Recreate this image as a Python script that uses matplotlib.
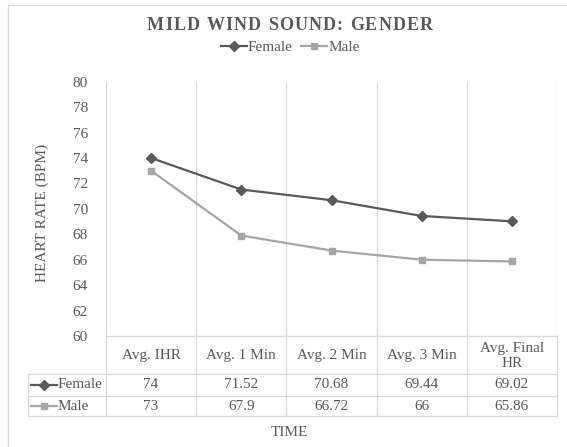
import matplotlib
matplotlib.use('Agg')
import matplotlib.pyplot as plt
from matplotlib.lines import Line2D

plt.rcParams['font.family'] = ['Liberation Serif', 'DejaVu Serif']

categories = ['Avg. IHR', 'Avg. 1 Min', 'Avg. 2 Min', 'Avg. 3 Min', 'Avg. Final\nHR']
female = [74, 71.52, 70.68, 69.44, 69.02]
male = [73, 67.9, 66.72, 66, 65.86]
female_txt = ['74', '71.52', '70.68', '69.44', '69.02']
male_txt = ['73', '67.9', '66.72', '66', '65.86']
y_ticks = list(range(60, 81, 2))
title = 'MILD WIND SOUND: GENDER'

W, H = 567, 447
TXT = '#595959'
GRID = '#D9D9D9'
C_F = '#595959'
C_M = '#A5A5A5'
FS = 11

# plot area in pixels
px_l, px_r = 106, 557
px_t, px_b = 81.7, 336
row_hdr = 374
row_f = 395.7
row_m = 416.3
tab_l = 28

fig = plt.figure(figsize=(W / 100, H / 100), dpi=100)

# overlay in pixel coords for table and frame
ov = fig.add_axes([0, 0, 1, 1], zorder=0)
ov.set_xlim(0, W)
ov.set_ylim(H, 0)
ov.axis('off')

ax = fig.add_axes([px_l / W, 1 - px_b / H, (px_r - px_l) / W, (px_b - px_t) / H], zorder=1)
ax.patch.set_alpha(0)

n = len(categories)
x = list(range(n))
ax.plot(x, female, color=C_F, lw=1.6, marker='D', ms=5, label='Female')
ax.plot(x, male, color=C_M, lw=1.6, marker='s', ms=5, label='Male')
ax.set_xlim(-0.5, n - 0.5)
ax.set_ylim(60, 80)
ax.set_yticks(y_ticks)
ax.set_xticks([])
ax.tick_params(axis='y', length=0, pad=13, labelsize=FS, labelcolor=TXT)
for s in ax.spines.values():
    s.set_visible(False)
for k in range(n + 1):
    ax.axvline(k - 0.5, color=GRID, lw=0.9, zorder=0)

# outer chart border
ov.plot([7.5, 7.5], [4.5, H], color=GRID, lw=0.9)
ov.plot([7.5, W], [4.5, 4.5], color=GRID, lw=0.9)

# data table lines
colw = (px_r - px_l) / n
edges = [px_l + colw * k for k in range(n + 1)]
for xe in edges:
    ov.plot([xe, xe], [px_b, row_m], color=GRID, lw=0.9)
ov.plot([tab_l, tab_l], [row_hdr, row_m], color=GRID, lw=0.9)
ov.plot([px_l, px_r], [px_b, px_b], color=GRID, lw=0.9)
for yy in [row_hdr, row_f, row_m]:
    ov.plot([tab_l, px_r], [yy, yy], color=GRID, lw=0.9)

for k, cat in enumerate(categories):
    cx = px_l + colw * (k + 0.5)
    ov.text(cx, (px_b + row_hdr) / 2 + 1, cat, ha='center', va='center',
            fontsize=FS, color=TXT, linespacing=1.15)
    ov.text(cx, (row_hdr + row_f) / 2, female_txt[k], ha='center', va='center',
            fontsize=FS, color=TXT)
    ov.text(cx, (row_f + row_m) / 2, male_txt[k], ha='center', va='center',
            fontsize=FS, color=TXT)

# row keys
for (yc, col, mk, name) in [((row_hdr + row_f) / 2, C_F, 'D', 'Female'),
                            ((row_f + row_m) / 2, C_M, 's', 'Male')]:
    ov.plot([31, 57], [yc, yc], color=col, lw=1.6)
    ov.plot([44], [yc], color=col, marker=mk, ms=5 if mk == 'D' else 4.5, ls='none')
    ov.text(57.5, yc, name, ha='left', va='center', fontsize=FS, color=TXT)

# title with extra letter spacing
renderer = fig.canvas.get_renderer()
spacing = 1.2
widths = []
for ch in title:
    t = fig.text(0, 0, ch, fontsize=13, fontweight='bold')
    widths.append(t.get_window_extent(renderer).width if ch != ' ' else
                  fig.text(0, 0, 'a a', fontsize=13, fontweight='bold').get_window_extent(renderer).width
                  - fig.text(0, 0, 'aa', fontsize=13, fontweight='bold').get_window_extent(renderer).width)
for t in list(fig.texts):
    t.remove()
total = sum(widths) + spacing * (len(title) - 1)
xpos = 290 - total / 2
for ch, w in zip(title, widths):
    fig.text(xpos / W, 1 - 25 / H, ch, ha='left', va='center',
             fontsize=13, fontweight='bold', color=TXT)
    xpos += w + spacing

fig.text(42 / W, 1 - 213 / H, 'HEART RATE (BPM)', ha='center', va='center',
         rotation=90, fontsize=FS, color=TXT)
fig.text(289 / W, 1 - 432 / H, 'TIME', ha='center', va='center', fontsize=FS, color=TXT)

fig.legend(handles=[Line2D([], [], color=C_F, lw=1.6, marker='D', ms=5),
                    Line2D([], [], color=C_M, lw=1.6, marker='s', ms=4.5)],
           labels=['Female', 'Male'], loc='center', ncol=2,
           bbox_to_anchor=(290 / W, 1 - 47 / H), frameon=False, fontsize=FS,
           handlelength=1.7, handletextpad=0.05, columnspacing=0.6,
           labelcolor=TXT)

fig.savefig('out.png', dpi=100)
